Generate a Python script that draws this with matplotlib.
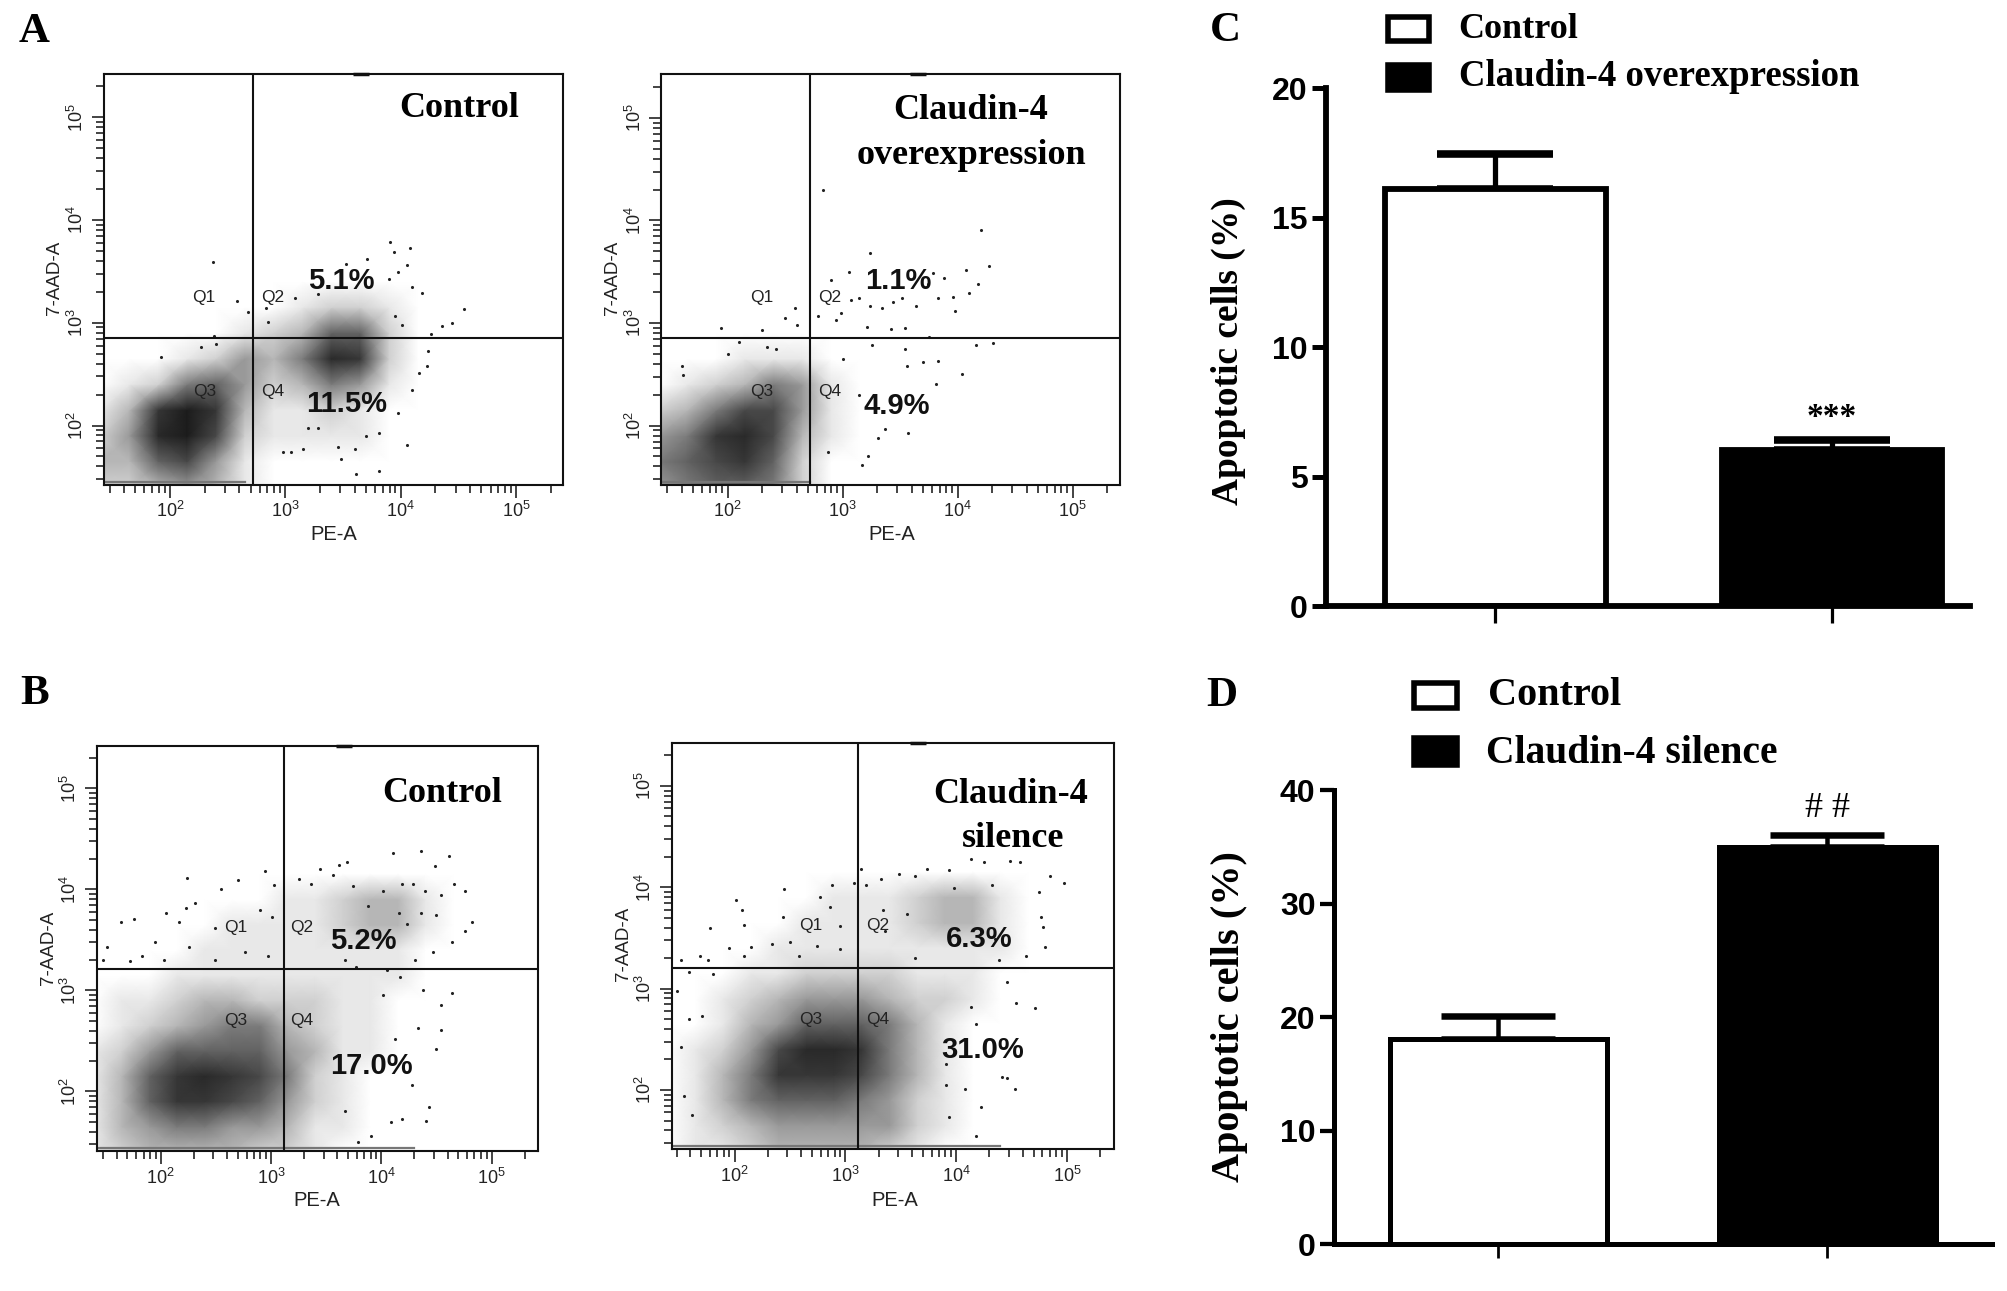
import numpy as np
import matplotlib
matplotlib.use("Agg")
import matplotlib.pyplot as plt
from matplotlib.colors import LinearSegmentedColormap
from matplotlib.patches import Rectangle
from matplotlib.ticker import LogLocator, LogFormatterMathtext, NullFormatter

plt.rcParams['font.family'] = ['Liberation Sans', 'DejaVu Sans']
plt.rcParams['mathtext.fontset'] = 'custom'
plt.rcParams['mathtext.rm'] = 'Liberation Sans'
plt.rcParams['mathtext.default'] = 'rm'

W, H = 2008, 1291

# ---------- bar data ----------
bar_c_vals = [16.1, 6.04]
bar_c_err = [1.35, 0.36]
bar_d_vals = [18.1, 35.0]
bar_d_err = [1.97, 1.1]

# ---------- flow plots: log10 grid on which the shading of each dense cloud was read ----------
grid_logx = [1.4, 1.65, 1.9, 2.15, 2.4, 2.65, 2.9, 3.15, 3.4, 3.65, 3.9, 4.15, 4.4, 4.65]
grid_logy = [1.4, 1.65, 1.9, 2.15, 2.4, 2.65, 2.9, 3.15, 3.4, 3.65, 3.9, 4.15]

a1_shade = [
    [2, 2, 3, 4, 3, 1, 0, 0, 0, 0, 0, 0, 0, 0],
    [3, 3, 6, 7, 4, 1, 0, 0, 0, 0, 0, 0, 0, 0],
    [2, 4, 9, 10, 7, 2, 1, 1, 1, 1, 0, 0, 0, 0],
    [1, 3, 8, 10, 8, 3, 1, 1, 2, 1, 0, 0, 0, 0],
    [0, 1, 2, 5, 6, 4, 2, 3, 5, 4, 1, 0, 0, 0],
    [0, 0, 0, 1, 2, 4, 3, 5, 9, 8, 2, 0, 0, 0],
    [0, 0, 0, 0, 0, 1, 2, 3, 6, 6, 2, 0, 0, 0],
    [0, 0, 0, 0, 0, 0, 0, 1, 2, 2, 1, 0, 0, 0],
    [0] * 14, [0] * 14, [0] * 14, [0] * 14]
a2_shade = [
    [4, 5, 6, 6, 5, 2, 0, 0, 0, 0, 0, 0, 0, 0],
    [5, 6, 7, 8, 6, 2, 0, 0, 0, 0, 0, 0, 0, 0],
    [4, 5, 8, 9, 7, 3, 1, 0, 0, 0, 0, 0, 0, 0],
    [2, 3, 5, 7, 7, 4, 1, 0, 0, 0, 0, 0, 0, 0],
    [0, 1, 2, 3, 5, 4, 1, 0, 0, 0, 0, 0, 0, 0],
    [0, 0, 0, 1, 1, 1, 0, 0, 0, 0, 0, 0, 0, 0],
    [0] * 14, [0] * 14, [0] * 14, [0] * 14, [0] * 14, [0] * 14]
b1_shade = [
    [1, 2, 3, 3, 3, 3, 2, 2, 1, 0, 0, 0, 0, 0],
    [1, 3, 4, 5, 5, 4, 4, 3, 1, 1, 0, 0, 0, 0],
    [1, 3, 6, 8, 8, 7, 6, 4, 2, 1, 0, 0, 0, 0],
    [1, 3, 6, 8, 9, 8, 7, 5, 2, 1, 0, 0, 0, 0],
    [1, 2, 4, 6, 6, 6, 6, 4, 3, 1, 1, 0, 0, 0],
    [0, 1, 2, 3, 4, 5, 5, 3, 2, 1, 1, 0, 0, 0],
    [0, 1, 1, 2, 3, 3, 2, 2, 2, 1, 1, 0, 0, 0],
    [0, 0, 0, 1, 1, 1, 1, 1, 1, 1, 1, 1, 0, 0],
    [0, 0, 0, 0, 1, 1, 1, 1, 1, 1, 1, 1, 0, 0],
    [0, 0, 0, 0, 0, 1, 1, 1, 1, 2, 3, 3, 1, 0],
    [0, 0, 0, 0, 0, 0, 0, 1, 1, 2, 3, 3, 1, 0],
    [0] * 14]
b2_shade = [
    [0, 1, 1, 2, 3, 3, 3, 3, 2, 1, 0, 0, 0, 0],
    [0, 1, 2, 3, 4, 4, 4, 4, 4, 2, 1, 0, 0, 0],
    [0, 1, 3, 5, 6, 6, 6, 5, 4, 2, 1, 0, 0, 0],
    [0, 1, 3, 5, 8, 8, 8, 7, 5, 3, 1, 0, 0, 0],
    [0, 1, 2, 4, 7, 9, 9, 8, 5, 3, 1, 0, 0, 0],
    [0, 0, 1, 3, 4, 6, 6, 6, 5, 3, 1, 0, 0, 0],
    [0, 0, 1, 2, 3, 4, 4, 4, 3, 2, 2, 1, 0, 0],
    [0, 0, 0, 1, 1, 2, 2, 2, 2, 1, 1, 1, 0, 0],
    [0, 0, 0, 0, 1, 1, 1, 1, 1, 1, 1, 1, 1, 0],
    [0, 0, 0, 0, 0, 1, 1, 1, 1, 2, 3, 3, 1, 0],
    [0, 0, 0, 0, 0, 0, 1, 1, 1, 2, 3, 3, 1, 0],
    [0] * 14]

# ---------- isolated events read one by one (log10 PE-A, log10 7-AAD-A) ----------
a1_events = [(2.37, 3.59), (3.91, 3.79), (4.08, 3.73), (3.94, 3.69), (3.71, 3.62), (4.05, 3.56), (3.53, 3.57),
             (3.90, 3.43), (3.98, 3.49), (4.10, 3.35), (4.18, 3.29), (4.55, 3.13), (4.44, 3.00), (4.36, 2.97),
             (2.58, 3.21), (2.68, 3.10), (2.83, 3.14), (2.85, 3.01), (3.28, 3.28), (3.08, 3.24), (3.95, 3.07),
             (4.01, 2.98), (4.26, 2.89), (4.24, 2.73), (4.23, 2.58), (4.16, 2.51), (4.10, 2.35), (3.98, 2.12),
             (4.05, 1.81), (3.81, 1.56), (3.61, 1.53), (3.60, 1.77), (3.48, 1.67), (3.46, 1.79), (3.15, 1.77),
             (2.98, 1.74), (3.05, 1.74), (3.28, 1.98), (3.20, 1.98), (3.70, 1.90), (3.81, 1.93), (1.92, 2.67),
             (2.38, 2.87), (2.27, 2.76), (2.40, 2.79)]
a2_events = [(2.83, 4.30), (4.20, 3.91), (3.24, 3.68), (4.27, 3.56), (4.07, 3.52), (4.18, 3.38), (4.10, 3.29),
             (3.98, 3.12), (3.96, 3.25), (3.88, 3.44), (3.79, 3.49), (3.74, 3.38), (3.83, 3.24), (3.64, 3.17),
             (3.52, 3.24), (3.44, 3.21), (3.34, 3.15), (3.24, 3.17), (3.14, 3.24), (3.07, 3.22), (2.99, 3.10),
             (2.90, 3.42), (3.06, 3.50), (2.79, 3.07), (2.94, 3.03), (3.21, 2.96), (3.42, 2.94), (3.54, 2.95),
             (2.50, 3.05), (2.59, 3.15), (2.60, 2.98), (1.94, 2.95), (2.30, 2.93), (4.16, 2.79), (4.31, 2.81),
             (3.75, 2.86), (3.54, 2.75), (3.26, 2.79), (3.83, 2.63), (3.70, 2.62), (4.04, 2.50), (3.81, 2.41),
             (3.56, 2.58), (3.57, 1.93), (3.37, 1.97), (3.31, 1.88), (3.22, 1.70), (3.17, 1.62), (2.87, 1.74),
             (1.60, 2.58), (1.61, 2.49), (2.00, 2.70), (2.10, 2.82), (2.34, 2.77), (2.42, 2.75), (3.14, 2.30),
             (3.00, 2.65)]
b1_events = [(2.24, 4.11), (2.70, 4.09), (2.55, 4.00), (2.95, 4.18), (3.03, 4.04), (3.44, 4.20), (3.62, 4.24),
             (3.69, 4.27), (4.11, 4.36), (4.36, 4.38), (4.61, 4.33), (4.49, 4.23), (4.76, 3.98), (4.82, 3.68),
             (4.76, 3.59), (4.64, 3.48), (4.47, 3.38), (4.31, 3.30), (4.19, 4.05), (4.02, 3.98), (3.88, 3.84),
             (3.74, 4.03), (3.56, 4.14), (3.36, 4.05), (3.25, 4.10), (4.29, 4.05), (4.40, 3.98), (4.54, 3.94),
             (4.66, 4.05), (4.36, 3.77), (4.50, 3.75), (4.16, 3.77), (4.23, 3.66), (1.64, 3.68), (1.76, 3.71),
             (2.05, 3.77), (2.23, 3.82), (2.31, 3.87), (1.51, 3.43), (1.48, 3.30), (1.95, 3.48), (2.17, 3.68),
             (2.26, 3.43), (2.49, 3.62), (2.76, 3.38), (2.90, 3.80), (3.01, 3.73), (2.97, 3.34), (2.49, 3.30),
             (2.03, 3.30), (1.83, 3.34), (1.72, 3.29), (3.67, 3.30), (3.77, 3.23), (4.05, 3.20), (4.54, 2.86),
             (4.64, 2.97), (4.38, 3.00), (4.54, 2.61), (4.50, 2.42), (4.33, 2.63), (4.28, 2.06), (4.43, 1.85),
             (4.41, 1.71), (4.19, 1.73), (4.09, 1.70), (3.91, 1.56), (3.79, 1.50), (3.67, 1.81), (4.12, 2.52),
             (4.02, 2.95), (4.17, 3.13)]
b2_events = [(2.01, 3.87), (2.07, 3.78), (1.78, 3.60), (2.09, 3.63), (2.15, 3.41), (1.95, 3.40), (1.69, 3.32),
             (1.52, 3.28), (1.76, 3.28), (2.09, 3.32), (2.45, 3.98), (2.88, 4.02), (3.08, 4.04), (2.77, 3.90),
             (2.44, 3.71), (2.50, 3.46), (2.34, 3.44), (2.86, 3.81), (2.95, 3.62), (2.74, 3.42), (2.95, 3.39),
             (2.58, 3.32), (3.14, 4.18), (3.19, 4.02), (3.32, 4.08), (3.48, 4.13), (3.63, 4.11), (3.74, 4.18),
             (3.94, 4.17), (4.13, 4.28), (4.25, 4.25), (4.49, 4.26), (4.58, 4.25), (4.85, 4.11), (4.97, 4.04),
             (4.75, 3.95), (4.77, 3.71), (4.78, 3.61), (4.80, 3.41), (4.63, 3.32), (4.39, 3.28), (4.35, 3.49),
             (4.71, 2.81), (4.54, 2.86), (4.46, 3.07), (4.53, 2.01), (4.46, 2.12), (4.41, 2.13), (4.22, 1.83),
             (4.18, 1.55), (3.94, 1.73), (4.08, 2.01), (3.91, 2.05), (3.91, 2.26), (4.18, 2.65), (4.13, 2.82),
             (1.52, 2.42), (1.59, 2.70), (1.71, 2.73), (1.54, 1.94), (1.62, 1.75), (1.48, 2.98), (1.59, 3.16),
             (1.81, 3.14), (3.63, 3.30), (3.34, 3.78), (3.36, 3.57), (3.56, 3.74), (3.98, 3.99), (4.32, 4.02)]

# gates and the run of events piled on the lowest channel (log10)
a1_gate, a2_gate, b1_gate, b2_gate = (2.72, 2.85), (2.72, 2.85), (3.116, 3.21), (3.117, 3.205)
a1_floor, a2_floor, b1_floor, b2_floor = (1.45, 2.65), (1.45, 2.72), (1.44, 4.3), (1.45, 4.4)

fig = plt.figure(figsize=(W / 100, H / 100), dpi=100, facecolor='white')
cmap = LinearSegmentedColormap.from_list('cloud', ['#ffffff', '#c4c4c4', '#7c7c7c', '#3c3c3c', '#1c1c1c'])


def fx(px):
    return px / W


def fy(py):
    return 1 - py / H


def new_axes(l, r, t, b):
    return fig.add_axes([fx(l), fy(b), (r - l) / W, (b - t) / H])


def ftext(px, py, s, **kw):
    kw.setdefault('ha', 'center')
    kw.setdefault('va', 'center')
    fig.text(fx(px), fy(py), s, **kw)


def flow(box, xlim, ylim, shade, events, gate, floor, qpos, blip):
    ax = new_axes(*box)
    ax.set_xscale('log')
    ax.set_yscale('log')
    X, Y = np.meshgrid(10.0 ** np.array(grid_logx), 10.0 ** np.array(grid_logy))
    ax.pcolormesh(X, Y, np.array(shade, float), shading='gouraud', cmap=cmap, vmin=0, vmax=10, zorder=1)
    ev = 10.0 ** np.array(events)
    ax.scatter(ev[:, 0], ev[:, 1], s=5, color='#222222', linewidths=0, zorder=2)
    ax.plot(10.0 ** np.array([xlim[0], floor[1]]), [10 ** floor[0]] * 2, color='#777777', lw=1.6, zorder=2)
    ax.set_xlim(10 ** xlim[0], 10 ** xlim[1])
    ax.set_ylim(10 ** ylim[0], 10 ** ylim[1])
    ax.axvline(10 ** gate[0], color='#111111', lw=1.5, zorder=3)
    ax.axhline(10 ** gate[1], color='#111111', lw=1.5, zorder=3)
    for axis in (ax.xaxis, ax.yaxis):
        axis.set_major_locator(LogLocator(base=10, numticks=8))
        axis.set_major_formatter(LogFormatterMathtext())
        axis.set_minor_locator(LogLocator(base=10, subs=np.arange(2, 10), numticks=8))
        axis.set_minor_formatter(NullFormatter())
    ax.tick_params(which='major', length=9, width=1.1, labelsize=13, pad=3, color='#111111', labelcolor='#222222')
    ax.tick_params(which='minor', length=6, width=1.1, color='#111111')
    for lab in ax.get_yticklabels():
        lab.set_rotation(90)
        lab.set_va('center')
    for s in ax.spines.values():
        s.set_linewidth(1.5)
        s.set_color('#111111')
    for name, (qx, qy) in zip(['Q1', 'Q2', 'Q3', 'Q4'], qpos):
        ax.text(10 ** qx, 10 ** qy, name, fontsize=12.5, ha='center', va='center', color='#222222', zorder=4)
    ax.plot([10 ** blip] * 1, [10 ** ylim[1]], marker='_', ms=11, mew=2.5, color='#111111', clip_on=False, zorder=5)
    return ax


flow((103.6, 563.5, 73.6, 484.6), (1.426, 5.41), (1.425, 5.425), a1_shade, a1_events, a1_gate, a1_floor,
     [(2.29, 3.25), (2.89, 3.25), (2.30, 2.33), (2.89, 2.33)], 3.66)
flow((661.5, 1119.8, 74.3, 484.6), (1.426, 5.41), (1.425, 5.425), a2_shade, a2_events, a2_gate, a2_floor,
     [(2.30, 3.25), (2.89, 3.25), (2.30, 2.33), (2.89, 2.33)], 3.66)
flow((96.7, 537.9, 746, 1151), (1.42, 5.42), (1.41, 5.42), b1_shade, b1_events, b1_gate, b1_floor,
     [(2.68, 3.62), (3.28, 3.62), (2.68, 2.70), (3.28, 2.70)], 3.66)
flow((672, 1113.5, 742.8, 1148.8), (1.436, 5.42), (1.42, 5.425), b2_shade, b2_events, b2_gate, b2_floor,
     [(2.69, 3.62), (3.29, 3.62), (2.69, 2.70), (3.29, 2.70)], 3.66)

serif_b = dict(family=['Liberation Serif'], fontweight='bold', color='black')
sans_b = dict(family=['Liberation Sans'], fontweight='bold', color='#111111')
for (px, py, s) in [(459.5, 108.5, 'Control'), (970.6, 110.2, 'Claudin-4'), (971.8, 155, 'overexpression'),
                    (442, 794, 'Control'), (1011, 794.5, 'Claudin-4'), (1013, 838.5, 'silence')]:
    ftext(px, py, s, fontsize=26, zorder=6, **serif_b)
for (px, py, s) in [(341, 281, '5.1%'), (347, 403.8, '11.5%'), (898, 281, '1.1%'), (897, 405.6, '4.9%'),
                    (363, 941, '5.2%'), (371, 1065.9, '17.0%'), (979, 939, '6.3%'), (983, 1049.7, '31.0%')]:
    ftext(px, py, s, fontsize=21, zorder=6, **sans_b)
for (px, py) in [(334, 534.8), (892, 534.8), (317, 1201), (895, 1200)]:
    ftext(px, py, 'PE-A', fontsize=14.5, color='#222222')
for (px, py) in [(55, 278), (613, 278), (49, 947.4), (623.5, 943.8)]:
    ftext(px, py, '7-AAD-A', fontsize=13.5, rotation=90, color='#222222')
for (px, py, s) in [(34.6, 32.3, 'A'), (34.6, 694.4, 'B'), (1225, 31, 'C'), (1222, 696, 'D')]:
    ftext(px, py, s, fontsize=31, **serif_b)


def bars(box, xlim, ymax, yticks, vals, errs, lw, cap, bar_w, xtick_len):
    ax = new_axes(*box)
    ax.bar([0], [vals[0]], width=bar_w, facecolor='white', edgecolor='black', linewidth=lw, zorder=2)
    ax.bar([1], [vals[1]], width=bar_w, facecolor='black', edgecolor='black', linewidth=lw, zorder=2)
    ax.errorbar([0, 1], vals, yerr=[[0, 0], errs], fmt='none', ecolor='black', elinewidth=lw * 0.9,
                capsize=cap, capthick=lw * 1.3, zorder=1)
    ax.set_xlim(*xlim)
    ax.set_ylim(0, ymax)
    ax.set_xticks([0, 1])
    ax.set_xticklabels([])
    ax.set_yticks(yticks)
    ax.tick_params(axis='y', length=10, width=lw * 0.85, labelsize=23, pad=3)
    ax.tick_params(axis='x', length=xtick_len, width=lw * 0.55)
    for lab in ax.get_yticklabels():
        lab.set_fontweight('bold')
    ax.spines['top'].set_visible(False)
    ax.spines['right'].set_visible(False)
    ax.spines['left'].set_linewidth(lw)
    ax.spines['bottom'].set_linewidth(lw)
    ax.patch.set_alpha(0)
    return ax


ax_c = bars((1326, 1970, 88.3, 606), (-0.503, 1.41), 20, [0, 5, 10, 15, 20], bar_c_vals, bar_c_err, 4.2, 42, 0.655, 12)
ax_c.text(1, 7.3, '***', fontsize=24, ha='center', va='center', **serif_b)
ax_d = bars((1333.5, 1991.5, 790.3, 1244), (-0.5015, 1.4985), 40, [0, 10, 20, 30, 40], bar_d_vals, bar_d_err, 3.6, 41, 0.66, 10)
ax_d.text(1, 38.4, '# #', fontsize=26, ha='center', va='center', family=['Liberation Serif'], color='black')


def legend_box(l, r, t, b, face):
    fig.add_artist(Rectangle((fx(l), fy(b)), (r - l) / W, (b - t) / H, transform=fig.transFigure,
                             facecolor=face, edgecolor='black', linewidth=4))


legend_box(1396 - 8, 1429, 17.5, 41, 'white')
legend_box(1396 - 8, 1429, 65.5, 89.5, 'black')
ftext(1458.5, 29.5, 'Control', fontsize=26, ha='left', **serif_b)
ftext(1459, 77, 'Claudin-4 overexpression', fontsize=26.5, ha='left', **serif_b)
legend_box(1414, 1457, 682.5, 708, 'white')
legend_box(1414, 1457, 738, 765, 'black')
ftext(1497 - 9, 695.5, 'Control', fontsize=29, ha='left', **serif_b)
ftext(1495 - 9, 753.5, 'Claudin-4 silence', fontsize=28.5, ha='left', **serif_b)
ftext(1228, 351, 'Apoptotic cells (%)', fontsize=27, rotation=90, **serif_b)
ftext(1230, 1016.8, 'Apoptotic cells (%)', fontsize=29, rotation=90, **serif_b)

fig.savefig('out.png', dpi=100, facecolor='white')
